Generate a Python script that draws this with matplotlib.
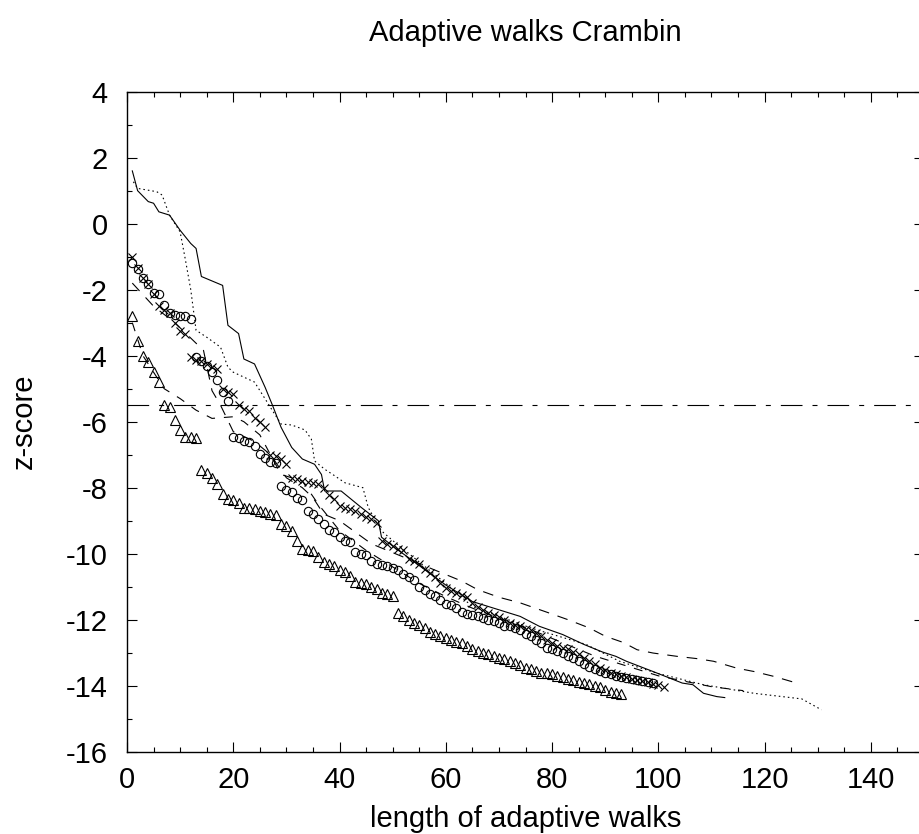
import matplotlib
matplotlib.use("Agg")
import matplotlib.pyplot as plt
from matplotlib.ticker import MultipleLocator

plt.rcParams['font.family'] = ['Liberation Sans', 'DejaVu Sans']
plt.rcParams['axes.unicode_minus'] = False

title = "Adaptive walks Crambin"
xlabel = "length of adaptive walks"
ylabel = "z-score"
threshold = -5.5

# walk drawn with solid line (vertices)
solid_x = [1, 2, 4, 5, 6, 8, 10, 12, 13, 14, 18, 19, 21, 22, 24, 26, 27.4, 29, 31, 33, 35.3, 36.6, 37.2, 40.3,
           44.1, 47.3, 47.9, 50.4, 53, 56, 60, 65, 70, 74, 77.6, 82, 86, 89.5, 92, 94, 99, 104.5, 106.5, 108.5, 111, 112.5]
solid_y = [1.6, 1.0, 0.67, 0.62, 0.36, 0.26, -0.2, -0.6, -0.75, -1.6, -1.87, -3.08, -3.33, -4.1, -4.25, -4.96, -5.51,
           -6.17, -6.78, -7.13, -7.29, -7.6, -8.1, -8.1, -8.6, -9.0, -9.5, -9.82, -10.12, -10.48, -10.95, -11.45, -11.7,
           -11.9, -12.2, -12.45, -12.75, -12.98, -13.11, -13.26, -13.57, -13.92, -13.97, -14.23, -14.33, -14.36]

# walk drawn with dotted line (vertices)
dotted_x = [1.2, 2, 5.6, 6.6, 8, 10, 11, 12, 13, 15, 17.6, 19, 20, 24, 26, 27.4, 29, 31, 33.5, 34.7, 35.3, 37.2, 39.1,
            41, 44.4, 45.4, 47.9, 50, 55, 60, 65, 76, 86.4, 92.7, 99.7, 108.5, 118, 127, 130.7]
dotted_y = [1.27, 1.07, 0.97, 0.87, 0.26, -0.25, -1.1, -2.0, -3.23, -3.44, -3.74, -4.35, -4.5, -4.8, -5.31, -5.67, -6.07,
            -6.1, -6.25, -6.53, -7.19, -7.44, -7.64, -7.85, -8.0, -8.6, -9.31, -9.6, -10.25, -10.9, -11.6, -12.25,
            -12.75, -13.26, -13.62, -13.97, -14.23, -14.4, -14.73]

# walk drawn with dashed line (vertices)
dashed_x = [1, 5, 9, 14.4, 16, 17.6, 20, 24, 27, 30, 33, 35, 37, 40, 43, 46, 52, 58, 63, 66, 70, 74, 79.5, 83, 87, 90,
            93.4, 96, 99, 103.5, 107.3, 110.4, 114.8, 118, 121.8, 125.4]
dashed_y = [-1.8, -2.5, -3.0, -3.84, -5.06, -5.5, -6.3, -6.6, -7.0, -7.7, -8.0, -8.3, -8.8, -9.0, -9.35, -9.7, -10.1,
            -10.5, -10.83, -11.09, -11.32, -11.49, -11.8, -12.0, -12.25, -12.5, -12.69, -12.91, -13.01, -13.11,
            -13.18, -13.26, -13.47, -13.57, -13.72, -13.89]

# walk drawn with long-dash line (vertices)
longdash_x = [1, 3, 5, 7, 10, 13, 16, 20, 22, 25, 29, 33, 36, 40, 45, 50, 55, 60, 65, 70, 76, 82, 88, 94, 100, 106,
              110, 116]
longdash_y = [-3.0, -4.0, -4.5, -5.0, -5.3, -5.65, -5.9, -5.85, -6.0, -6.4, -7.6, -7.8, -8.5, -9.3, -9.9, -10.4,
              -10.9, -11.3, -11.65, -11.95, -12.3, -12.7, -13.1, -13.4, -13.7, -13.9, -14.03, -14.15]

# walk with cross markers (one value per step)
cross_y = [-1.0, -1.35, -1.65, -1.82, -2.12, -2.5, -2.62, -2.7, -3.0, -3.25, -3.33, -4.05, -4.12, -4.15, -4.25, -4.35,
           -4.4, -5.0, -5.1, -5.16, -5.5, -5.6, -5.67, -5.9, -6.0, -6.17, -7.0, -7.05, -7.13, -7.29, -7.72, -7.75,
           -7.8, -7.82, -7.85, -7.9, -8.0, -8.22, -8.35, -8.55, -8.6, -8.65, -8.72, -8.8, -8.9, -8.95, -9.06, -9.6,
           -9.7, -9.77, -9.85, -9.9, -10.15, -10.22, -10.3, -10.45, -10.58, -10.7, -10.9, -11.05, -11.12, -11.18,
           -11.24, -11.3, -11.5, -11.6, -11.7, -11.8, -11.85, -11.92, -12.0, -12.1, -12.15, -12.2, -12.28, -12.32,
           -12.4, -12.5, -12.6, -12.7, -12.8, -12.85, -12.9, -12.98, -13.05, -13.15, -13.25, -13.35, -13.45, -13.52,
           -13.6, -13.66, -13.7, -13.75, -13.8, -13.83, -13.86, -13.9, -13.94, -13.98, -14.05]

# walk with circle markers (one value per step)
circle_y = [-1.2, -1.36, -1.65, -1.82, -2.1, -2.14, -2.47, -2.72, -2.78, -2.79, -2.8, -2.9, -4.05, -4.15, -4.3, -4.5,
            -4.75, -5.1, -5.36, -6.45, -6.5, -6.58, -6.63, -6.73, -6.98, -7.1, -7.22, -7.25, -7.95, -8.08, -8.12,
            -8.3, -8.38, -8.7, -8.8, -8.95, -9.1, -9.28, -9.35, -9.5, -9.62, -9.65, -9.95, -10.0, -10.05, -10.22,
            -10.3, -10.35, -10.38, -10.42, -10.48, -10.6, -10.72, -10.8, -11.0, -11.1, -11.22, -11.28, -11.4, -11.52,
            -11.56, -11.65, -11.78, -11.82, -11.86, -11.9, -11.95, -12.0, -12.05, -12.1, -12.18, -12.2, -12.25,
            -12.3, -12.42, -12.5, -12.6, -12.72, -12.85, -12.9, -12.95, -13.0, -13.1, -13.16, -13.25, -13.35,
            -13.42, -13.5, -13.55, -13.6, -13.65, -13.7, -13.75, -13.78, -13.8, -13.83, -13.86, -13.88, -13.92]

# walk with triangle markers (one value per step)
triangle_y = [-2.8, -3.55, -4.0, -4.2, -4.5, -4.8, -5.5, -5.55, -5.95, -6.25, -6.45, -6.47, -6.48, -7.45, -7.55, -7.7,
              -7.9, -8.2, -8.35, -8.36, -8.45, -8.6, -8.62, -8.65, -8.72, -8.75, -8.8, -8.82, -9.1, -9.15, -9.3, -9.6,
              -9.85, -9.88, -9.92, -10.1, -10.25, -10.3, -10.38, -10.48, -10.55, -10.68, -10.85, -10.88, -10.92,
              -11.0, -11.08, -11.18, -11.22, -11.28, -11.8, -11.88, -12.0, -12.1, -12.15, -12.25, -12.38, -12.42,
              -12.5, -12.55, -12.6, -12.68, -12.72, -12.8, -12.9, -12.95, -13.0, -13.05, -13.1, -13.15, -13.2, -13.25,
              -13.3, -13.36, -13.45, -13.5, -13.55, -13.6, -13.62, -13.65, -13.7, -13.75, -13.8, -13.83, -13.88,
              -13.92, -13.96, -14.0, -14.05, -14.12, -14.18, -14.22, -14.25]

W, H = 919, 834
fig = plt.figure(figsize=(W / 100, H / 100), dpi=100)
ax = fig.add_axes([127 / W, 1 - 751.7 / H, 797 / W, 660 / H])

lw = 0.8
ax.plot(solid_x, solid_y, color='black', lw=lw, linestyle='-')
ax.plot(dotted_x, dotted_y, color='black', lw=lw, linestyle=(0, (1.4, 2.7)))
ax.plot(dashed_x, dashed_y, color='black', lw=lw, linestyle=(0, (9.6, 8)))
ax.plot(longdash_x, longdash_y, color='black', lw=lw, linestyle=(0, (8, 8)))

ax.plot(range(1, len(cross_y) + 1), cross_y, linestyle='none', marker='x', ms=6, mew=0.8, color='black')
ax.plot(range(1, len(circle_y) + 1), circle_y, linestyle='none', marker='o', ms=6, mew=0.8,
        mfc='none', mec='black')
ax.plot(range(1, len(triangle_y) + 1), triangle_y, linestyle='none', marker='^', ms=7, mew=0.8,
        mfc='none', mec='black')

ax.axhline(threshold, color='black', lw=lw, linestyle=(0, (19.5, 9, 4.5, 9)))

ax.set_xlim(0, 150)
ax.set_ylim(-16, 4)
ax.xaxis.set_major_locator(MultipleLocator(20))
ax.xaxis.set_minor_locator(MultipleLocator(5))
ax.yaxis.set_major_locator(MultipleLocator(2))
ax.yaxis.set_minor_locator(MultipleLocator(1))
ax.tick_params(which='both', direction='in', top=True, right=True, width=0.8, labelsize=21)
ax.tick_params(which='major', length=7)
ax.tick_params(which='minor', length=3.5)
ax.tick_params(axis='x', pad=10)
ax.tick_params(axis='y', pad=14)
for s in ax.spines.values():
    s.set_linewidth(1.0)

ax.set_xlabel(xlabel, fontsize=21, labelpad=8)
ax.set_ylabel(ylabel, fontsize=21, labelpad=20)
fig.text((127 + 797 / 2) / W, 1 - 33 / H, title, ha='center', va='center', fontsize=21)

fig.savefig("out.png", dpi=100)
